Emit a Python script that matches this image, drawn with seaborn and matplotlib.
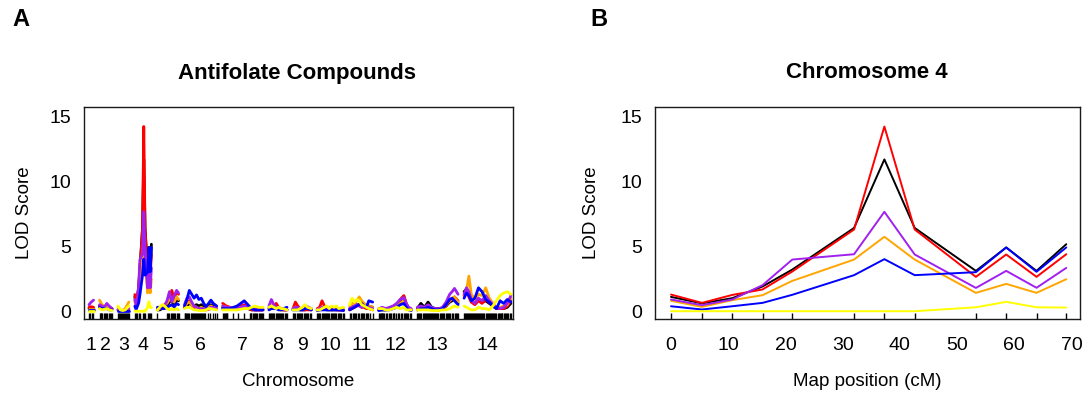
import numpy as np
import pandas as pd
import matplotlib
matplotlib.use("Agg")
import matplotlib.pyplot as plt
import seaborn as sns

# ---------------- data ----------------
chromosomes = ["1", "2", "3", "4", "5", "6", "7", "8", "9", "10", "11", "12", "13", "14"]
chrom_length_cM = [19, 52, 45, 69.1, 88, 134, 168, 75, 76, 110, 96, 136, 170, 195]
gap_cM = 25

chr4_markers_cM = [0, 5.4, 10.7, 16.0, 21.2, 32.0, 37.3, 42.6, 53.3, 58.6, 63.9, 69.1]

# positions (cM within chromosome) of the LOD profile points
curve_pos = [
    [0, 9, 19],
    [0, 10, 20, 30, 40, 52],
    [0, 10, 20, 30, 45],
    chr4_markers_cM,
    [0, 10, 20, 30, 40, 50, 60, 70, 80, 88],
    [0, 10, 20, 30, 40, 50, 60, 70, 80, 90, 100, 110, 120, 134],
    [0, 15, 30, 45, 60, 75, 90, 105, 120, 135, 150, 168],
    [0, 10, 20, 30, 40, 50, 60, 75],
    [0, 10, 20, 30, 40, 50, 60, 76],
    [0, 10, 20, 30, 40, 50, 60, 70, 80, 90, 110],
    [0, 10, 20, 30, 40, 50, 60, 70, 80, 96],
    [0, 15, 30, 45, 60, 75, 90, 105, 115, 125, 136],
    [0, 15, 30, 45, 60, 75, 90, 105, 120, 135, 145, 155, 170],
    [0, 10, 20, 30, 45, 60, 75, 90, 105, 120, 135, 150, 165, 180, 195],
]

lod_black = [
    [0.2, 0.25, 0.2],
    [0.4, 0.3, 0.2, 0.3, 0.2, 0.2],
    [0.1, 0.05, 0.05, 0.05, 0.1],
    [1.1, 0.6, 1.0, 1.9, 3.2, 6.4, 11.67, 6.4, 3.1, 4.9, 3.1, 5.15],
    [0.1, 0.1, 0.2, 0.3, 0.4, 0.7, 0.8, 0.5, 0.9, 0.8],
    [0.3, 0.4, 0.6, 0.5, 0.4, 0.5, 0.4, 0.5, 0.3, 0.3, 0.4, 0.5, 0.4, 0.3],
    [0.3, 0.2, 0.2, 0.2, 0.2, 0.3, 0.3, 0.2, 0.1, 0.1, 0.1, 0.1],
    [0.2, 0.4, 0.3, 0.3, 0.2, 0.1, 0.1, 0.1],
    [0.1, 0.3, 0.2, 0.1, 0.1, 0.1, 0.2, 0.1],
    [0.1, 0.1, 0.3, 0.2, 0.1, 0.1, 0.1, 0.1, 0.1, 0.1, 0.1],
    [0.2, 0.3, 0.4, 0.5, 0.5, 0.4, 0.5, 0.3, 0.4, 0.3],
    [0.1, 0.1, 0.1, 0.2, 0.3, 0.5, 0.8, 1.15, 0.5, 0.2, 0.1],
    [0.2, 0.6, 0.3, 0.7, 0.3, 0.2, 0.2, 0.2, 0.4, 0.7, 0.8, 1.0, 0.6],
    [1.5, 1.7, 1.3, 0.8, 0.6, 0.9, 0.7, 0.8, 0.6, 0.4, 0.2, 0.2, 0.2, 0.3, 0.6],
]
lod_red = [
    [0.3, 0.35, 0.3],
    [0.4, 0.3, 0.3, 0.4, 0.3, 0.2],
    [0.1, 0.05, 0.05, 0.05, 0.1],
    [1.28, 0.64, 1.25, 1.67, 3.05, 6.28, 14.2, 6.28, 2.64, 4.36, 2.64, 4.38],
    [0.2, 0.2, 0.3, 0.5, 0.7, 1.0, 1.6, 0.9, 1.5, 1.3],
    [0.3, 0.6, 0.8, 0.5, 0.3, 0.2, 0.15, 0.15, 0.1, 0.1, 0.15, 0.2, 0.2, 0.2],
    [0.6, 0.4, 0.3, 0.2, 0.3, 0.4, 0.5, 0.3, 0.1, 0.1, 0.1, 0.1],
    [0.2, 0.3, 0.3, 0.6, 0.3, 0.2, 0.1, 0.1],
    [0.2, 0.7, 0.4, 0.2, 0.1, 0.1, 0.1, 0.1],
    [0.2, 0.3, 0.8, 0.4, 0.2, 0.2, 0.1, 0.2, 0.1, 0.1, 0.1],
    [0.1, 0.2, 0.3, 0.4, 0.5, 0.3, 0.3, 0.2, 0.2, 0.1],
    [0.1, 0.2, 0.1, 0.2, 0.3, 0.5, 0.9, 1.2, 0.6, 0.2, 0.1],
    [0.1, 0.3, 0.2, 0.3, 0.2, 0.1, 0.1, 0.2, 0.4, 0.8, 0.9, 1.1, 0.8],
    [1.2, 1.5, 1.1, 0.7, 0.5, 0.8, 0.6, 0.9, 0.7, 0.4, 0.2, 0.2, 0.2, 0.4, 0.8],
]
lod_orange = [
    [0.2, 0.2, 0.2],
    [0.85, 0.5, 0.4, 0.3, 0.3, 0.2],
    [0.3, 0.1, 0.05, 0.2, 0.7],
    [0.8, 0.33, 0.85, 1.23, 2.33, 3.97, 5.72, 3.97, 1.41, 2.1, 1.41, 2.46],
    [0.1, 0.2, 0.3, 0.5, 0.6, 0.9, 1.0, 0.7, 1.1, 0.9],
    [0.4, 0.6, 0.7, 0.5, 0.4, 0.3, 0.2, 0.3, 0.2, 0.2, 0.3, 0.4, 0.3, 0.3],
    [0.4, 0.3, 0.2, 0.2, 0.2, 0.3, 0.3, 0.2, 0.2, 0.2, 0.2, 0.2],
    [0.3, 0.5, 0.4, 0.3, 0.2, 0.1, 0.1, 0.1],
    [0.2, 0.3, 0.2, 0.2, 0.2, 0.3, 0.3, 0.2],
    [0.1, 0.2, 0.3, 0.2, 0.2, 0.2, 0.2, 0.2, 0.2, 0.1, 0.1],
    [0.4, 0.6, 0.6, 0.8, 1.1, 0.8, 0.6, 0.5, 0.4, 0.3],
    [0.1, 0.2, 0.2, 0.2, 0.3, 0.4, 0.6, 0.8, 0.4, 0.2, 0.1],
    [0.1, 0.2, 0.2, 0.3, 0.2, 0.1, 0.1, 0.2, 0.5, 0.8, 1.0, 1.1, 0.7],
    [1.2, 1.6, 2.7, 1.3, 0.9, 1.3, 1.2, 1.8, 1.0, 0.6, 0.3, 0.3, 0.4, 0.5, 1.0],
]
lod_purple = [
    [0.5, 0.7, 0.85],
    [0.5, 0.4, 0.3, 0.6, 0.4, 0.2],
    [0.1, 0.05, 0.05, 0.1, 0.2],
    [0.9, 0.46, 0.9, 2.0, 3.97, 4.38, 7.64, 4.36, 1.79, 3.1, 1.8, 3.33],
    [0.2, 0.2, 0.3, 0.4, 0.8, 1.5, 0.7, 1.2, 1.6, 1.4],
    [0.5, 1.0, 1.1, 0.7, 0.4, 0.3, 0.2, 0.2, 0.2, 0.15, 0.2, 0.3, 0.3, 0.2],
    [0.4, 0.3, 0.3, 0.2, 0.2, 0.3, 0.4, 0.3, 0.2, 0.1, 0.1, 0.1],
    [0.4, 0.9, 0.5, 0.3, 0.2, 0.2, 0.1, 0.1],
    [0.2, 0.3, 0.3, 0.2, 0.2, 0.3, 0.35, 0.2],
    [0.1, 0.2, 0.3, 0.2, 0.3, 0.3, 0.2, 0.3, 0.2, 0.1, 0.1],
    [0.2, 0.3, 0.4, 0.5, 0.4, 0.3, 0.4, 0.3, 0.3, 0.2],
    [0.2, 0.3, 0.2, 0.3, 0.4, 0.6, 0.9, 1.05, 0.6, 0.3, 0.2],
    [0.3, 0.4, 0.3, 0.5, 0.3, 0.2, 0.2, 0.3, 0.7, 1.3, 1.5, 1.75, 1.3],
    [1.3, 1.8, 1.5, 0.9, 0.6, 1.0, 0.8, 1.2, 0.8, 0.5, 0.3, 0.2, 0.3, 0.6, 1.2],
]
lod_blue = [
    [0.1, 0.1, 0.1],
    [0.3, 0.2, 0.2, 0.2, 0.1, 0.1],
    [0.05, 0.05, 0.05, 0.05, 0.05],
    [0.38, 0.13, 0.38, 0.64, 1.26, 2.77, 4.0, 2.77, 3.0, 4.9, 3.03, 4.9],
    [0.3, 0.3, 0.2, 0.2, 0.3, 0.4, 0.5, 0.3, 0.6, 0.5],
    [0.4, 0.9, 1.6, 1.3, 1.0, 1.25, 0.9, 1.0, 0.6, 0.35, 0.6, 0.85, 0.6, 0.4],
    [0.2, 0.2, 0.2, 0.3, 0.4, 0.6, 0.8, 0.5, 0.2, 0.1, 0.1, 0.1],
    [0.1, 0.2, 0.2, 0.2, 0.1, 0.1, 0.2, 0.3],
    [0.1, 0.1, 0.1, 0.1, 0.1, 0.2, 0.2, 0.1],
    [0.05, 0.1, 0.1, 0.1, 0.1, 0.1, 0.1, 0.1, 0.1, 0.1, 0.05],
    [0.1, 0.2, 0.3, 0.4, 0.5, 0.6, 0.4, 0.3, 0.8, 0.7],
    [0.05, 0.1, 0.1, 0.1, 0.2, 0.3, 0.5, 0.6, 0.3, 0.1, 0.05],
    [0.1, 0.2, 0.2, 0.3, 0.2, 0.1, 0.1, 0.2, 0.5, 0.9, 1.0, 0.8, 0.5],
    [1.0, 1.4, 1.2, 0.8, 1.0, 1.8, 1.5, 0.9, 0.7, 0.4, 0.2, 0.8, 0.6, 0.9, 0.7],
]
lod_yellow = [
    [0.05, 0.05, 0.05],
    [0.2, 0.1, 0.15, 0.2, 0.1, 0.05],
    [0.4, 0.1, 0.05, 0.1, 0.4],
    [0, 0, 0, 0, 0, 0, 0, 0, 0.3, 0.72, 0.3, 0.28],
    [0.1, 0.3, 0.5, 0.4, 0.2, 0.1, 0.2, 0.1, 0.2, 0.1],
    [0.2, 0.3, 0.3, 0.2, 0.1, 0.1, 0.05, 0.05, 0.05, 0.1, 0.2, 0.2, 0.15, 0.1],
    [0.1, 0.1, 0.1, 0.1, 0.1, 0.15, 0.2, 0.2, 0.3, 0.4, 0.3, 0.3],
    [0.3, 0.4, 0.3, 0.2, 0.3, 0.2, 0.2, 0.1],
    [0.1, 0.1, 0.1, 0.2, 0.3, 0.5, 0.3, 0.2],
    [0.1, 0.1, 0.2, 0.3, 0.4, 0.2, 0.4, 0.3, 0.4, 0.2, 0.3],
    [0.5, 1.0, 0.7, 0.9, 0.8, 0.5, 0.4, 0.3, 0.2, 0.1],
    [0.2, 0.2, 0.1, 0.1, 0.2, 0.3, 0.2, 0.3, 0.1, 0.1, 0.1],
    [0.1, 0.1, 0.1, 0.1, 0.05, 0.05, 0.05, 0.1, 0.1, 0.2, 0.3, 0.4, 0.3],
    [0.4, 0.3, 0.2, 0.1, 0.1, 0.3, 0.2, 0.2, 0.1, 0.4, 0.8, 1.2, 1.4, 1.5, 1.3],
]

# genetic marker positions (rug), cM within chromosome
marker_pos = [
    [0, 3, 14, 18],
    [0, 4, 8, 12, 20, 24, 28, 33, 40, 44, 48, 52],
    [0, 4, 8, 12, 16, 20, 24, 28, 32, 36, 40, 45],
    chr4_markers_cM,
    [0, 40, 45, 50, 55, 60, 66, 70, 75, 80, 84, 88],
    [0, 4, 8, 12, 16, 20, 25, 30, 34, 38, 42, 46, 50, 55, 60, 64, 68, 72, 76, 80, 85, 96, 108, 118, 127, 134],
    [0, 4, 8, 12, 16, 20, 45, 62, 90, 112, 116, 120, 125, 130, 135, 140, 145, 150, 155, 160, 164, 168],
    [0, 4, 8, 12, 16, 22, 28, 32, 36, 40, 44, 50, 55, 60, 66, 70, 75],
    [0, 4, 10, 16, 20, 24, 30, 34, 38, 44, 50, 54, 58, 64, 70, 76],
    [0, 4, 8, 12, 18, 24, 28, 32, 38, 42, 46, 50, 56, 62, 66, 70, 76, 80, 86, 92, 96, 100, 106, 110],
    [0, 6, 14, 18, 22, 28, 34, 40, 46, 50, 54, 62, 68, 72, 78, 86, 96],
    [0, 4, 8, 12, 16, 20, 24, 30, 36, 42, 46, 52, 58, 62, 66, 72, 80, 86, 92, 98, 104, 110, 116, 120, 124, 130, 136],
    [0, 4, 8, 12, 16, 22, 28, 32, 36, 40, 44, 48, 52, 56, 60, 66, 70, 74, 78, 82, 88, 94, 98, 102, 106, 112,
     118, 124, 128, 132, 138, 144, 150, 156, 160, 164, 170],
    [0, 4, 8, 12, 16, 20, 25, 30, 34, 38, 42, 46, 50, 55, 60, 64, 68, 72, 76, 80, 85, 90, 95, 100, 104, 108,
     112, 116, 120, 125, 130, 135, 140, 144, 148, 152, 156, 160, 165, 170, 175, 180, 185, 190, 195],
]

series_names = ["black", "red", "orange", "purple", "blue", "yellow"]
series_lod = [lod_black, lod_red, lod_orange, lod_purple, lod_blue, lod_yellow]
palette = {"black": "#000000", "red": "#FF0000", "orange": "#FFA500",
           "purple": "#A020F0", "blue": "#0000FF", "yellow": "#FFFF00"}

# ---------------- build tables ----------------
offsets = []
acc = 0.0
for L in chrom_length_cM:
    offsets.append(acc)
    acc += L + gap_cM
chrom_centers = [o + L / 2 for o, L in zip(offsets, chrom_length_cM)]

rows = []
for name, lods in zip(series_names, series_lod):
    for ci, chrom in enumerate(chromosomes):
        for p, v in zip(curve_pos[ci], lods[ci]):
            rows.append({"series": name, "chrom": chrom, "x": offsets[ci] + p, "pos": p, "lod": v})
df = pd.DataFrame(rows)
df4 = df[df["chrom"] == "4"]

rug_x = [offsets[ci] + p for ci in range(len(chromosomes)) for p in marker_pos[ci]]

# ---------------- style ----------------
sns.set_style("white")
plt.rcParams["font.family"] = ["Liberation Sans", "DejaVu Sans"]
plt.rcParams["text.color"] = "black"
plt.rcParams["xtick.color"] = "black"
plt.rcParams["ytick.color"] = "black"

W, H = 1085, 395
fig = plt.figure(figsize=(W / 100, H / 100), dpi=100)
axA = fig.add_axes([84 / W, (H - 319) / H, 429 / W, 212 / H])
axB = fig.add_axes([655 / W, (H - 319) / H, 425 / W, 212 / H])

frame_col = "#1a1a1a"
for ax in (axA, axB):
    for s in ax.spines.values():
        s.set_visible(True)
        s.set_color(frame_col)
        s.set_linewidth(1.0)
    ax.set_ylim(-0.6, 15.7)
    ax.set_yticks([0, 5, 10, 15])
    ax.tick_params(axis="both", direction="out", length=6, width=1.0, color="#444444",
                   labelsize=14, labelcolor="black")
    ax.tick_params(axis="y", pad=3)
    ax.tick_params(axis="x", pad=7)

# Panel A: genome scan
sns.lineplot(data=df, x="x", y="lod", hue="series", hue_order=series_names, palette=palette,
             units="chrom", estimator=None, sort=False, linewidth=2.0, legend=False, ax=axA)
sns.rugplot(x=rug_x, height=0.03, color="black", lw=1.0, ax=axA)
axA.set_xlim(-20.8, 1767)
axA.set_xticks(chrom_centers)
axA.set_xticklabels(chromosomes)
axA.set_xlabel("")
axA.set_ylabel("")

# Panel B: chromosome 4
sns.lineplot(data=df4, x="pos", y="lod", hue="series", hue_order=series_names, palette=palette,
             units="chrom", estimator=None, sort=False, linewidth=1.4, legend=False, ax=axB)
sns.rugplot(x=chr4_markers_cM, height=0.03, color="black", lw=1.8, ax=axB)
axB.set_xlim(-2.8, 71.5)
axB.set_xticks([0, 10, 20, 30, 40, 50, 60, 70])
axB.set_xlabel("")
axB.set_ylabel("")

# text
def fx(px):
    return px / W

def fy(py):
    return 1 - py / H

fig.text(fx(21), fy(19), "A", fontsize=17, fontweight="bold", ha="center", va="center", color="black")
fig.text(fx(599), fy(19), "B", fontsize=17, fontweight="bold", ha="center", va="center", color="black")
fig.text(fx(297), fy(73), "Antifolate Compounds", fontsize=16, fontweight="bold", ha="center", va="center",
         color="black")
fig.text(fx(867), fy(73), "Chromosome 4", fontsize=16, fontweight="bold", ha="center", va="center",
         color="black")
fig.text(fx(298), fy(381), "Chromosome", fontsize=13.5, ha="center", va="center", color="black")
fig.text(fx(867), fy(381), "Map position (cM)", fontsize=13.5, ha="center", va="center", color="black")
fig.text(fx(25), fy(213), "LOD Score", fontsize=13.5, rotation=90, ha="center", va="center", color="black")
fig.text(fx(592), fy(213), "LOD Score", fontsize=13.5, rotation=90, ha="center", va="center", color="black")

fig.savefig("out.png", dpi=100, facecolor="white")
